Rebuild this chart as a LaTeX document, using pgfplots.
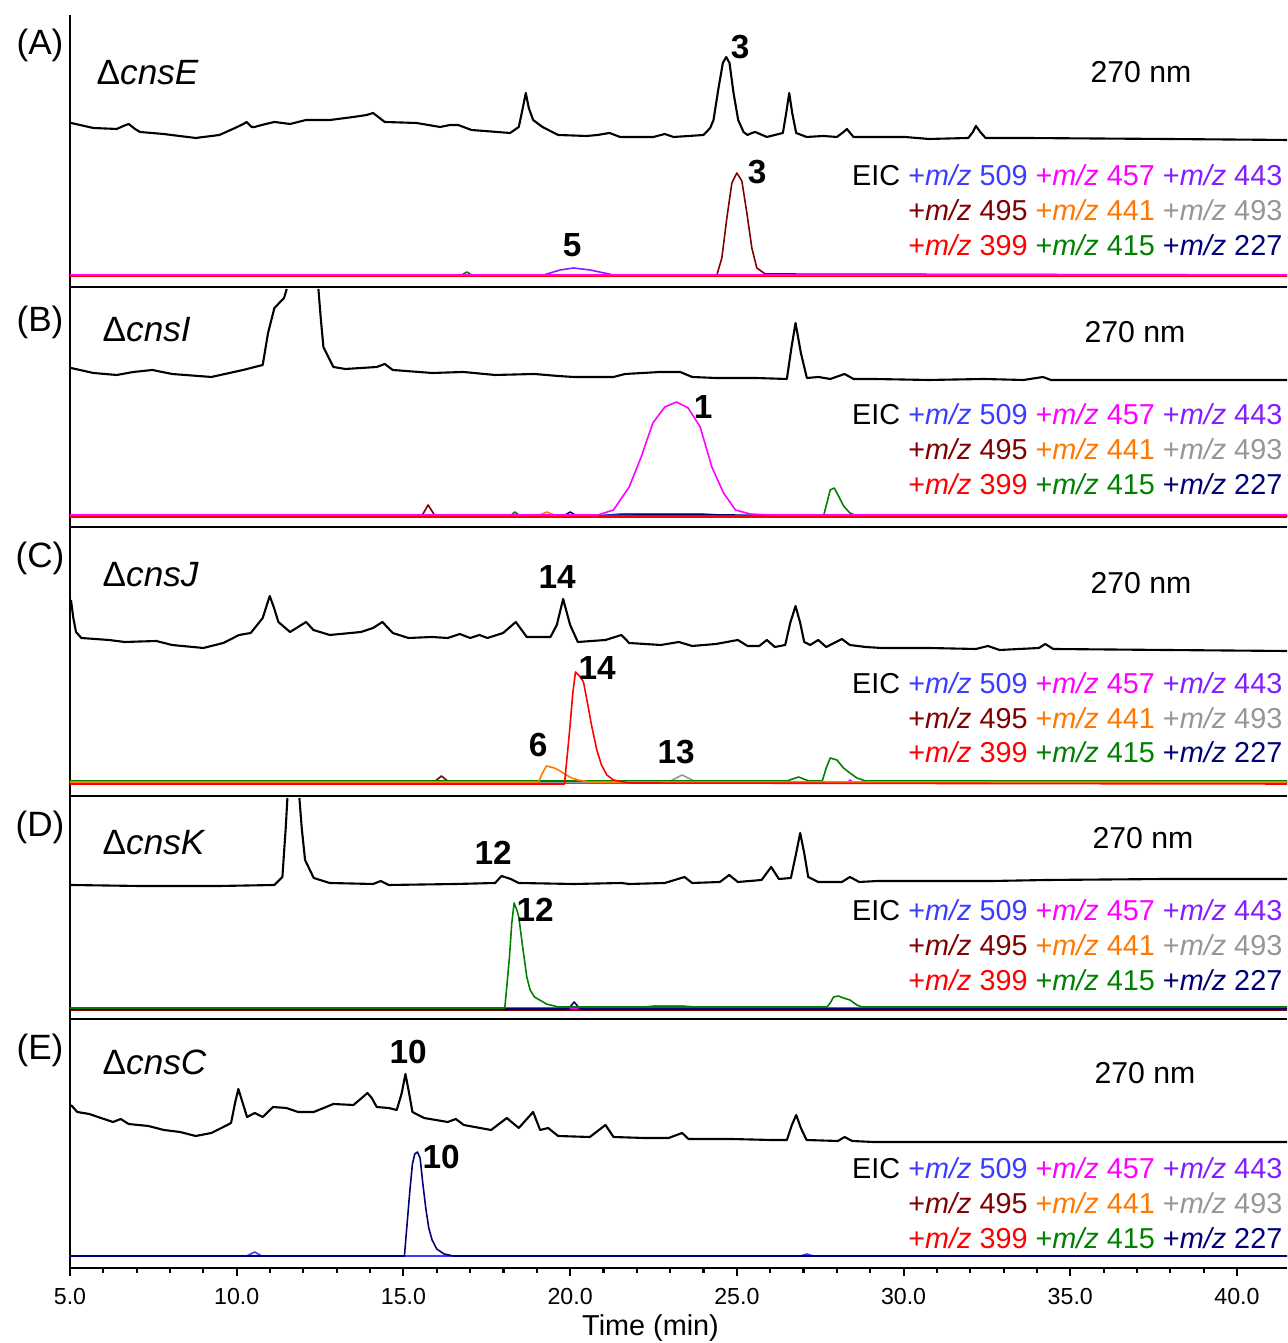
\documentclass[border=0pt]{standalone}
\usepackage{pgfplots}
\pgfplotsset{compat=1.18}
\usepackage{fontspec}
\setmainfont{Liberation Sans}

\definecolor{cA}{RGB}{60,60,255}   % m/z 509
\definecolor{cB}{RGB}{255,0,255}   % m/z 457
\definecolor{cC}{RGB}{130,30,255}  % m/z 443
\definecolor{cD}{RGB}{128,0,0}     % m/z 495
\definecolor{cE}{RGB}{255,120,0}   % m/z 441
\definecolor{cF}{RGB}{150,150,150} % m/z 493
\definecolor{cG}{RGB}{255,0,0}     % m/z 399
\definecolor{cH}{RGB}{0,128,0}     % m/z 415
\definecolor{cI}{RGB}{0,0,120}     % m/z 227

\newcommand{\mz}[2]{\textcolor{#1}{+\textit{m/z} #2}}
\newcommand{\flateic}[2]{\addplot[eic,#1] coordinates {(5,#2) (41.5,#2)};}
\newcommand{\eicleg}[3]{%
  \node[anchor=east,inner sep=0pt,font=\fontsize{8.2}{9}\selectfont] at (axis cs:41.38,#1) {EIC \mz{cA}{509} \mz{cB}{457} \mz{cC}{443}};
  \node[anchor=east,inner sep=0pt,font=\fontsize{8.2}{9}\selectfont] at (axis cs:41.38,#2) {\mz{cD}{495} \mz{cE}{441} \mz{cF}{493}};
  \node[anchor=east,inner sep=0pt,font=\fontsize{8.2}{9}\selectfont] at (axis cs:41.38,#3) {\mz{cG}{399} \mz{cH}{415} \mz{cI}{227}};}
\newcommand{\panel}[4]{%
  \node[font=\fontsize{10}{11}\selectfont] at (axis cs:4.1,#1) {(#2)};
  \node[anchor=west,inner sep=0pt,font=\fontsize{10}{11}\selectfont] at (axis cs:#3) {Δ\textit{#4}};}

\begin{document}
\begin{tikzpicture}
\begin{axis}[
  scale only axis, width=121.7mm, height=125.3mm,
  xmin=5, xmax=41.5, ymin=0, ymax=1253,
  axis lines*=left, axis line style={line width=0.8pt},
  ytick=\empty,
  xtick={5,10,...,40}, minor x tick num=4,
  tick align=outside, major tick length=0.8mm, minor tick length=0.5mm,
  tick style={line width=0.6pt, black},
  /pgf/number format/assume math mode=true,
  xticklabel style={font=\fontsize{6.6}{7}\selectfont,
    /pgf/number format/.cd, fixed, fixed zerofill, precision=1},
  xlabel={Time (min)},
  xlabel style={font=\fontsize{8.2}{9}\selectfont, at={(axis description cs:0.477,0)}, anchor=center, inner sep=0pt, yshift=-6mm},
  clip=false, unbounded coords=jump,
  uv/.style={black, line width=0.6pt, line join=round},
  eic/.style={line width=0.45pt, line join=round},
]
% panel separators
\draw[line width=0.7pt] (axis cs:5,981) -- (axis cs:41.5,981);
\draw[line width=0.7pt] (axis cs:5,741) -- (axis cs:41.5,741);
\draw[line width=0.7pt] (axis cs:5,472) -- (axis cs:41.5,472);
\draw[line width=0.7pt] (axis cs:5,249) -- (axis cs:41.5,249);

% ---------- (A) cnsE ----------
\addplot[uv] coordinates {(5.03,1145)(5.7,1140)(6.4,1139)(6.6,1142)(6.76,1144)(6.95,1139)(7.1,1136)(7.8,1134)(8.77,1130)(9.48,1133)(9.95,1140)(10.2,1144)(10.3,1146)(10.45,1141)(10.54,1141)(10.75,1143)(11.13,1146)(11.6,1144)(12.08,1148)(12.8,1148)(13.5,1151)(13.9,1153)(14.09,1155)(14.44,1146)(15.39,1145)(16.1,1141)(16.4,1143)(16.64,1143)(17.04,1138)(18.2,1135)(18.46,1141)(18.58,1160)(18.67,1175)(18.76,1160)(18.89,1148)(19.17,1141)(19.64,1133)(20.5,1132)(20.82,1133)(21.18,1135)(21.5,1131)(22.5,1131)(22.84,1134)(23.1,1131)(24.0,1133)(24.2,1140)(24.3,1148)(24.45,1180)(24.58,1205)(24.68,1211)(24.78,1205)(24.9,1175)(25.04,1148)(25.2,1136)(25.32,1133)(25.45,1135)(25.55,1136)(25.9,1131)(26.38,1135)(26.48,1155)(26.57,1175)(26.66,1155)(26.78,1135)(27.09,1131)(27.6,1132)(28.0,1131)(28.2,1136)(28.3,1139)(28.5,1131)(30.04,1131)(30.76,1129)(31.94,1130)(32.08,1136)(32.17,1142)(32.3,1136)(32.46,1130)(33.6,1130)(37.85,1129)(41.5,1128)};
\flateic{cI}{993}
\flateic{cA}{993}
\flateic{cF}{993}
\flateic{cE}{993}
\addplot[eic,cH] coordinates {(5,992)(16.7,992)(16.9,996)(17.1,992)(41.5,992)};
\addplot[eic,cC] coordinates {(5,993)(19.2,993)(19.7,998)(20.1,1000)(20.6,998)(21.3,993)(41.5,993)};
\addplot[eic,cD] coordinates {(5,993)(24.4,993)(24.55,1010)(24.7,1050)(24.85,1085)(25.0,1095)(25.15,1087)(25.3,1055)(25.45,1020)(25.6,1000)(25.85,994)(41.5,993)};
\flateic{cG}{992}
\flateic{cB}{993}
\panel{1223}{A}{5.78,1195}{cnsE}
\node[font=\fontsize{8.6}{9}\selectfont] at (axis cs:37.12,1196) {270 nm};
\eicleg{1093}{1058}{1023}
\node[font=\bfseries\fontsize{9.5}{10}\selectfont] at (axis cs:25.1,1221) {3};
\node[font=\bfseries\fontsize{9.5}{10}\selectfont] at (axis cs:25.61,1096) {3};
\node[font=\bfseries\fontsize{9.5}{10}\selectfont] at (axis cs:20.06,1023) {5};

% ---------- (B) cnsI ----------
\addplot[uv] coordinates {(5.03,900)(5.7,895)(6.4,893)(6.9,896)(7.47,898)(8.06,894)(9.24,891)(10.19,898)(10.78,903)(10.94,935)(11.13,960)(11.42,970)(11.5,979)(12.0,nan)(12.45,979)(12.52,950)(12.6,921)(12.9,901)(13.26,899)(14.2,901)(14.44,904)(14.68,898)(15.86,895)(16.8,896)(17.75,893)(18.93,894)(19.64,892)(20.1,891)(21.3,891)(21.65,894)(22.7,896)(23.3,896)(23.66,891)(24.37,890)(25.55,890)(26.5,889)(26.64,921)(26.76,945)(26.92,915)(27.1,890)(27.45,891)(27.8,889)(28.23,894)(28.5,889)(29.1,889)(30.76,888)(32.4,889)(33.6,888)(34.18,891)(34.42,888)(41.5,888)};
\flateic{cF}{752}
\flateic{cC}{752}
\addplot[eic,cA] coordinates {(5,752)(20.8,752)(21.5,754)(24,754)(25,752)(41.5,752)};
\addplot[eic,cI] coordinates {(5,752)(19.8,752)(20.0,756)(20.2,752)(22,753)(24,753)(41.5,752)};
\addplot[eic,cD] coordinates {(5,752)(15.55,752)(15.74,763)(15.95,752)(41.5,752)};
\addplot[eic,cE] coordinates {(5,752)(19.0,752)(19.3,756)(19.6,752)(41.5,752)};
\addplot[eic,cH] coordinates {(5,752)(18.2,752)(18.34,756)(18.5,752)(27.6,752)(27.7,765)(27.8,778)(27.92,780)(28.05,772)(28.2,762)(28.39,755)(28.6,752)(41.5,752)};
\flateic{cG}{751}
\addplot[eic,cB] coordinates {(5,753)(20.5,753)(20.83,753)(21.3,758)(21.77,781)(22.13,811)(22.48,845)(22.84,861)(23.19,866)(23.54,860)(23.9,841)(24.25,801)(24.6,775)(24.96,758)(25.4,754)(26.0,753)(41.5,753)};
\panel{946}{B}{5.96,938}{cnsI}
\node[font=\fontsize{8.6}{9}\selectfont] at (axis cs:36.94,936) {270 nm};
\eicleg{854}{819}{784}
\node[font=\bfseries\fontsize{9.5}{10}\selectfont] at (axis cs:23.99,861) {1};

% ---------- (C) cnsJ ----------
\addplot[uv] coordinates {(5.03,668)(5.1,650)(5.18,636)(5.34,630)(6.17,628)(6.64,626)(7.59,627)(8.06,623)(9.0,620)(9.6,625)(10.07,633)(10.42,635)(10.78,650)(10.99,672)(11.12,660)(11.25,646)(11.6,636)(12.08,646)(12.3,638)(12.79,633)(13.73,636)(14.09,640)(14.37,646)(14.68,635)(15.15,630)(15.86,631)(16.33,630)(16.69,634)(17.0,630)(17.28,633)(17.52,630)(17.99,635)(18.37,646)(18.7,631)(19.41,631)(19.6,643)(19.79,669)(20.0,643)(20.23,626)(21.06,628)(21.54,633)(21.77,625)(22.72,623)(23.26,626)(23.66,622)(24.37,624)(25.03,628)(25.32,622)(25.67,622)(25.9,628)(26.14,621)(26.45,623)(26.6,645)(26.76,662)(26.9,645)(27.02,626)(27.2,623)(27.44,628)(27.68,621)(28.15,629)(28.39,623)(28.63,622)(28.86,621)(29.34,620)(30.76,620)(32.17,619)(32.53,622)(32.88,618)(34.06,620)(34.25,624)(34.49,619)(37.85,618)(41.5,617)};
\flateic{cI}{486}
\flateic{cA}{485}
\flateic{cC}{486}
\addplot[eic,cB] coordinates {(5,485)(28.3,485)(28.4,488)(28.5,485)(41.5,485)};
\addplot[eic,cD] coordinates {(5,486)(15.92,486)(16.14,492)(16.36,486)(41.5,486)};
\addplot[eic,cF] coordinates {(5,486)(22.95,486)(23.36,493)(23.78,486)(41.5,486)};
\addplot[eic,cH] coordinates {(5,487)(26.5,487)(26.85,491)(27.16,487)(27.56,487)(27.68,500)(27.8,510)(28.0,508)(28.2,500)(28.39,495)(28.6,490)(28.86,487)(41.5,487)};
\addplot[eic,cE] coordinates {(5,486)(19.05,486)(19.17,495)(19.29,502)(19.41,501)(19.53,500)(19.7,497)(19.88,493)(20.05,490)(20.23,488)(20.6,486)(41.5,486)};
\addplot[eic,cG] coordinates {(5,484)(19.83,484)(19.92,515)(20.0,543)(20.08,575)(20.16,596)(20.28,592)(20.4,586)(20.52,565)(20.64,543)(20.8,518)(20.94,503)(21.1,493)(21.3,488)(21.77,485)(41.5,484)};
\panel{710}{C}{5.96,693}{cnsJ}
\node[font=\fontsize{8.6}{9}\selectfont] at (axis cs:37.12,685) {270 nm};
\eicleg{585}{550}{516}
\node[font=\bfseries\fontsize{9.5}{10}\selectfont] at (axis cs:19.61,691) {14};
\node[font=\bfseries\fontsize{9.5}{10}\selectfont] at (axis cs:20.81,600) {14};
\node[font=\bfseries\fontsize{9.5}{10}\selectfont] at (axis cs:19.04,523) {6};
\node[font=\bfseries\fontsize{9.5}{10}\selectfont] at (axis cs:23.18,516) {13};

% ---------- (D) cnsK ----------
\addplot[uv] coordinates {(5.03,383)(7.1,382)(9.48,382)(11.13,383)(11.37,391)(11.47,440)(11.52,470)(11.7,nan)(11.88,470)(11.95,440)(12.05,408)(12.31,390)(12.79,385)(14.09,384)(14.32,387)(14.56,383)(16.57,384)(17.75,385)(17.94,392)(18.22,389)(18.46,385)(20.12,384)(21.54,385)(21.77,384)(22.84,385)(23.43,391)(23.66,385)(24.49,386)(24.77,393)(25.03,386)(25.74,388)(26.03,401)(26.26,389)(26.62,390)(26.78,415)(26.9,435)(27.02,415)(27.14,391)(27.44,386)(28.15,386)(28.39,391)(28.67,386)(29.22,387)(30.76,387)(32.65,387)(34.3,388)(37.85,389)(41.5,389)};
\flateic{cG}{259}
\flateic{cA}{259}
\flateic{cC}{259}
\flateic{cF}{259}
\flateic{cE}{259}
\flateic{cD}{258}
\addplot[eic,cB] coordinates {(5,260)(21.9,260)(22.5,262)(23.4,262)(24.1,260)(41.5,260)};
\addplot[eic,cI] coordinates {(5,259)(19.95,259)(20.12,266)(20.3,259)(41.5,259)};
\addplot[eic,cH] coordinates {(5,260)(18.04,260)(18.11,285)(18.18,311)(18.25,345)(18.32,365)(18.4,358)(18.46,351)(18.58,320)(18.7,291)(18.8,278)(18.93,271)(19.29,264)(19.64,261)(27.7,261)(27.8,265)(27.9,271)(28.04,272)(28.2,270)(28.39,268)(28.6,263)(28.75,261)(41.5,261)};
\panel{441}{D}{5.96,425}{cnsK}
\node[font=\fontsize{8.6}{9}\selectfont] at (axis cs:37.18,430) {270 nm};
\eicleg{358}{323}{288}
\node[font=\bfseries\fontsize{9.5}{10}\selectfont] at (axis cs:17.69,415) {12};
\node[font=\bfseries\fontsize{9.5}{10}\selectfont] at (axis cs:18.95,358) {12};

% ---------- (E) cnsC ----------
\addplot[uv] coordinates {(5.03,163)(5.22,156)(5.58,154)(5.93,150)(6.29,146)(6.52,149)(6.76,144)(7.35,142)(7.82,138)(8.3,136)(8.77,132)(9.24,135)(9.6,141)(9.83,145)(9.95,165)(10.05,179)(10.18,165)(10.31,151)(10.54,155)(10.78,151)(11.09,161)(11.49,160)(11.84,156)(12.31,156)(12.9,164)(13.5,163)(13.75,170)(13.92,175)(14.05,170)(14.2,161)(14.56,160)(14.8,158)(14.95,175)(15.06,194)(15.17,175)(15.27,156)(15.62,150)(16.33,146)(16.57,149)(16.81,143)(17.63,138)(18.1,150)(18.46,140)(18.89,156)(19.1,138)(19.34,140)(19.64,132)(20.59,131)(21.06,143)(21.3,131)(22.24,130)(22.95,130)(23.36,135)(23.55,129)(24.84,129)(26.03,128)(26.5,128)(26.65,143)(26.78,153)(26.92,140)(27.09,128)(28.03,127)(28.23,131)(28.46,127)(29.1,126)(33.12,126)(41.5,126)};
\flateic{cF}{12}
\flateic{cG}{12}
\flateic{cH}{12}
\flateic{cE}{12}
\flateic{cD}{12}
\flateic{cC}{12}
\flateic{cB}{12}
\addplot[eic,cA] coordinates {(5,12)(10.3,12)(10.54,16)(10.75,12)(26.9,12)(27.1,14)(27.3,12)(41.5,12)};
\addplot[eic,cI] coordinates {(5,12)(15.03,12)(15.12,48)(15.2,80)(15.27,104)(15.34,114)(15.42,116)(15.5,110)(15.58,85)(15.67,60)(15.76,40)(15.86,28)(16.0,19)(16.22,14)(16.5,12)(41.5,12)};
\panel{218}{E}{5.96,206}{cnsC}
\node[font=\fontsize{8.6}{9}\selectfont] at (axis cs:37.24,195) {270 nm};
\eicleg{100}{65}{30}
\node[font=\bfseries\fontsize{9.5}{10}\selectfont] at (axis cs:15.14,216) {10};
\node[font=\bfseries\fontsize{9.5}{10}\selectfont] at (axis cs:16.13,111) {10};
\end{axis}
\pgfresetboundingbox
\path[use as bounding box] (current axis.south west) ++(-7mm,-7.5mm) rectangle ([yshift=1.5mm]current axis.north east);
\end{tikzpicture}
\end{document}
